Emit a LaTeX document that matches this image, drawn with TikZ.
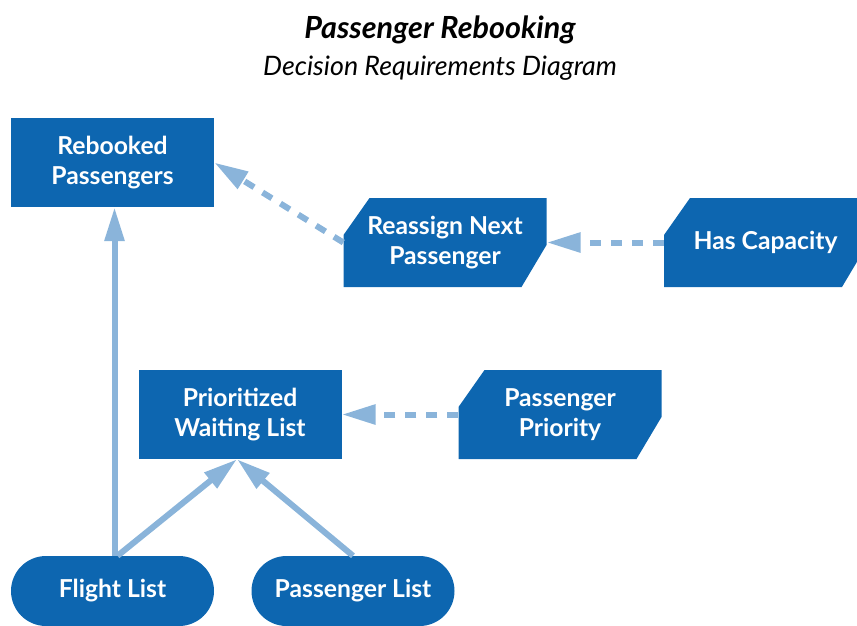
\documentclass[tikz,border=0pt]{standalone}
\usepackage{fontspec}
\setmainfont{Lato}
\usetikzlibrary{arrows.meta}
\definecolor{boxblue}{RGB}{13,102,176}
\definecolor{arrowblue}{RGB}{138,180,218}
\tikzset{
  nodetext/.style={text=white, font=\fontsize{24.7}{30}\selectfont\bfseries, align=center, inner sep=0pt},
  decisionbox/.style={nodetext, fill=boxblue, minimum width=203pt, minimum height=89pt},
  bkmbox/.style={nodetext, minimum width=203pt, minimum height=89pt,
    path picture={\fill[boxblue]
      ([xshift=26pt]path picture bounding box.north west) --
      (path picture bounding box.north east) --
      ([yshift=42pt]path picture bounding box.south east) --
      ([xshift=-25pt]path picture bounding box.south east) --
      (path picture bounding box.south west) --
      ([yshift=-37pt]path picture bounding box.north west) -- cycle;}},
  inputbox/.style={nodetext, fill=boxblue, minimum width=203pt, minimum height=70pt, rounded corners=35pt},
  infoarrow/.style={draw=arrowblue, line width=6pt, -{Triangle[length=34pt,width=19pt]}},
  knowarrow/.style={infoarrow, dash pattern=on 11pt off 10pt},
}
\begin{document}
\begin{tikzpicture}[x=1pt,y=-1pt]
\clip (0,0) rectangle (857,625);
\node[font=\fontsize{30.5}{34}\selectfont\bfseries\itshape, anchor=base] (title) at (440,38) {Passenger Rebooking};
\node[font=\fontsize{26.8}{30}\selectfont\itshape, anchor=base] (subtitle) at (440,75) {Decision Requirements Diagram};

\node[decisionbox] (reb) at (112.5,162.5) {Rebooked\\Passengers};
\node[bkmbox] (ra) at (445,242.5) {Reassign Next\\Passenger};
\node[bkmbox] (hc) at (765.5,242.5) {Has Capacity};
\node[decisionbox] (pw) at (240,414.5) {Prioritized\\Waiting List};
\node[bkmbox] (pp) at (560,414.5) {Passenger\\Priority};
\node[inputbox] (fl) at (112.5,591) {Flight List};
\node[inputbox] (pl) at (353,591) {Passenger List};

\draw[infoarrow] ([xshift=2pt]fl.north) -- ([xshift=2pt]reb.south);
\draw[infoarrow] ([xshift=5pt]fl.north) -- ([xshift=-3pt]pw.south);
\draw[infoarrow] (pl.north) -- ([xshift=-3pt]pw.south);
\draw[knowarrow] (ra.west) -- (reb.east);
\draw[knowarrow] (hc.west) -- (ra.east);
\draw[knowarrow] (pp.west) -- (pw.east);
\end{tikzpicture}
\end{document}
